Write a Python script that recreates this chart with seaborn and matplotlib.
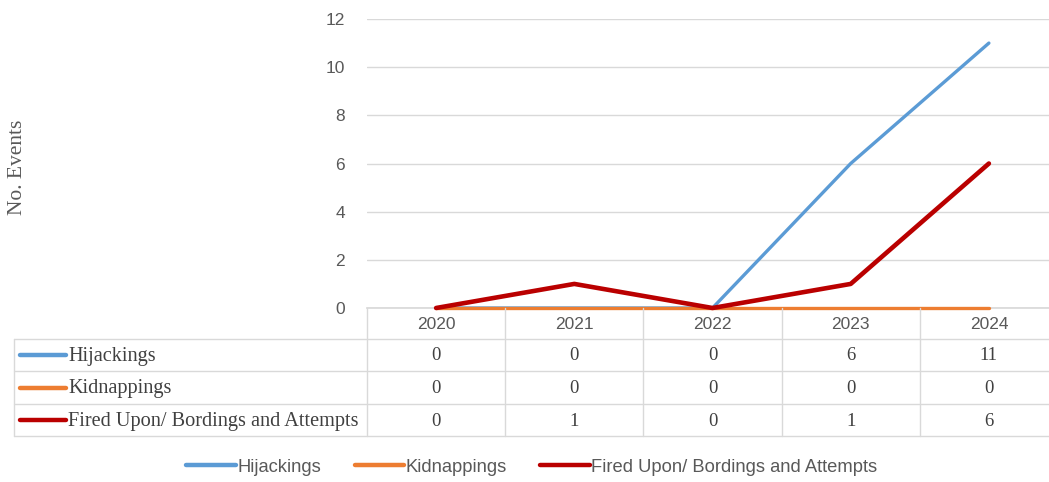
import pandas as pd
import matplotlib.pyplot as plt
import seaborn as sns

# chart data
years = [2020, 2021, 2022, 2023, 2024]
series_names = ["Hijackings", "Kidnappings", "Fired Upon/ Bordings and Attempts"]
hijackings = [0, 0, 0, 6, 11]
kidnappings = [0, 0, 0, 0, 0]
fired_upon = [0, 1, 0, 1, 6]
colors = ["#5B9BD5", "#ED7D31", "#BA0000"]

df = pd.DataFrame({
    "Year": years * 3,
    "Events": hijackings + kidnappings + fired_upon,
    "Series": [s for s in series_names for _ in years],
})

sns.set_theme(style="white")
W, H = 1049, 482
fig = plt.figure(figsize=(W / 100, H / 100), dpi=100)

# plot area in pixels
x0, x1, y_top, y_bot = 367, 1058, 19, 308
ax = fig.add_axes([x0 / W, 1 - y_bot / H, (x1 - x0) / W, (y_bot - y_top) / H])
sns.lineplot(data=df, x="Year", y="Events", hue="Series", hue_order=series_names,
             palette=colors, linewidth=3, ax=ax, legend=True)
for line, lw in zip(ax.get_lines(), [2.4, 2.4, 3.3]):
    line.set_linewidth(lw)
    line.set_solid_joinstyle("round")
    line.set_zorder(5)
    line.set_clip_on(False)
ax.set_xlim(years[0] - 0.5, years[-1] + 0.5)
ax.set_ylim(0, 12)
ax.set_yticks(range(0, 13, 2))
ax.set_xticks([])
ax.set_xlabel("")
ax.set_ylabel("")
ax.grid(axis="y", color="#d9d9d9", linewidth=1)
for s in ["top", "right", "left"]:
    ax.spines[s].set_visible(False)
ax.spines["bottom"].set_color("#d9d9d9")
ax.tick_params(axis="y", length=0, pad=16, labelsize=12.5, labelcolor="#595959")
for t in ax.get_yticklabels():
    t.set_fontfamily(["Liberation Sans", "DejaVu Sans"])
handles, labels = ax.get_legend_handles_labels()
ax.get_legend().remove()

# data table below the plot
tab = fig.add_axes([0, 0, 1, 1], facecolor="none")
tab.set_xlim(0, W)
tab.set_ylim(H, 0)
tab.axis("off")
grid_c = "#d9d9d9"
text_c = "#404040"
col_w = (x1 - x0) / len(years)
row_y = [308, 339, 371, 404, 436]
left = 14

# header row
for i, yr in enumerate(years):
    cx = x0 + col_w * (i + 0.5)
    tab.text(cx, (row_y[0] + row_y[1]) / 2 + 1, str(yr), ha="center", va="center",
             fontsize=12.5, color="#595959", family=["Liberation Sans", "DejaVu Sans"])
# horizontal lines
for y in row_y[1:]:
    tab.plot([left, W], [y, y], color=grid_c, lw=1)
# vertical lines
tab.plot([left, left], [row_y[1], row_y[-1]], color=grid_c, lw=1)
for i in range(len(years)):
    xb = x0 + col_w * i
    tab.plot([xb, xb], [row_y[0], row_y[-1]], color=grid_c, lw=1)

values = [hijackings, kidnappings, fired_upon]
for r, (name, vals, c) in enumerate(zip(series_names, values, colors)):
    cy = (row_y[r + 1] + row_y[r + 2]) / 2
    tab.plot([20, 66], [cy, cy], color=c, lw=3.2, solid_capstyle="round")
    tab.text(68, cy + 1.5, name, ha="left", va="center", fontsize=14.6,
             color=text_c, family="Liberation Serif")
    for i, v in enumerate(vals):
        cx = x0 + col_w * (i + 0.5)
        tab.text(cx, cy + 1, str(v), ha="center", va="center", fontsize=13.5,
                 color=text_c, family="Liberation Serif")

# y-axis title
tab.text(18, 167, "No. Events", rotation=90, ha="center", va="center",
         fontsize=15.5, color="#595959", family="Liberation Serif")

# legend
leg = fig.legend(handles, labels, loc="center", bbox_to_anchor=(532 / W, 1 - 467 / H),
                 ncol=3, frameon=False, handlelength=2.7, columnspacing=1.8,
                 handletextpad=0.1, prop={"family": "Liberation Sans", "size": 13.2})
for t in leg.get_texts():
    t.set_color("#595959")
for h in leg.get_lines():
    h.set_linewidth(3.2)

fig.savefig("out.png", dpi=100)
plt.close()
